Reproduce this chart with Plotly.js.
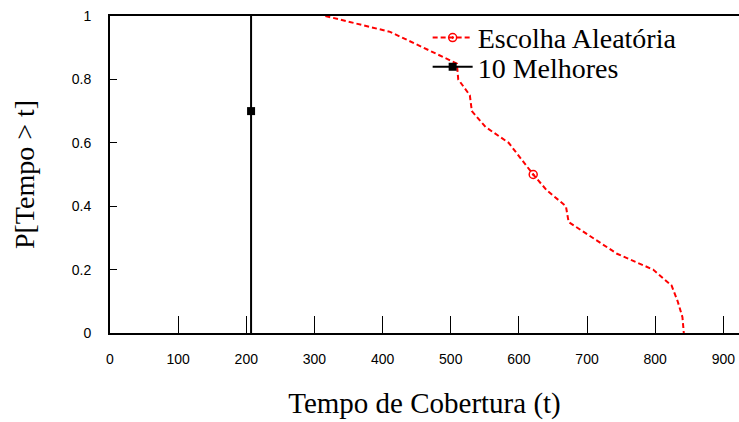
<!DOCTYPE html>
<html>
<head>
<meta charset="utf-8">
<script src="https://cdn.plot.ly/plotly-3.0.1.min.js"></script>
<style>html,body{margin:0;padding:0;background:#fff}#chart{width:739px;height:422px}</style>
</head>
<body>
<div id="chart"></div>
<script>
// Escolha Aleatória (random choice) – survival curve P[Tempo > t]
const randomT = [316, 411, 460, 509, 511, 528, 531, 551, 585, 603, 621, 641, 669, 673, 708, 744, 797, 824, 833, 840, 842];
const randomP = [1.0, 0.95, 0.90, 0.85, 0.80, 0.75, 0.70, 0.65, 0.60, 0.55, 0.50, 0.45, 0.40, 0.35, 0.30, 0.25, 0.20, 0.15, 0.10, 0.05, 0.0];
const randomMarkT = [621];
const randomMarkP = [0.5];
// 10 Melhores (10 best)
const bestT = [207, 207];
const bestP = [0.0, 1.0];
const bestMarkT = [207];
const bestMarkP = [0.7];

const xTicks = [0, 100, 200, 300, 400, 500, 600, 700, 800, 900];
const yTicks = [0, 0.2, 0.4, 0.6, 0.8, 1];
const yTickText = ['0', '0.2', '0.4', '0.6', '0.8', '1'];

const red = '#ff0000';
const black = '#000000';
const serif = 'Liberation Serif, Times New Roman, serif';
const sans = 'Liberation Sans, Arial, sans-serif';

const traces = [
  {x: randomT, y: randomP, mode: 'lines', showlegend: false,
   line: {color: red, width: 2, dash: '5px,3px'}, hoverinfo: 'skip'},
  {x: randomMarkT, y: randomMarkP, mode: 'lines+markers', name: 'Escolha Aleatória',
   legend: 'legend',
   line: {color: red, width: 2, dash: '5px,3px'},
   marker: {symbol: 'circle-open-dot', size: 8, color: red, line: {color: red, width: 1.5}}},
  {x: bestT, y: bestP, mode: 'lines', showlegend: false,
   line: {color: black, width: 2}, hoverinfo: 'skip'},
  {x: bestMarkT, y: bestMarkP, mode: 'lines+markers', name: '10 Melhores',
   legend: 'legend2',
   line: {color: black, width: 2},
   marker: {symbol: 'square', size: 8, color: black}}
];

const legendCommon = {
  xanchor: 'left', yanchor: 'middle',
  font: {family: serif, size: 28, color: '#000'},
  bgcolor: 'rgba(0,0,0,0)', borderwidth: 0, itemwidth: 40
};

const layout = {
  width: 739, height: 422,
  margin: {l: 110, r: 0, t: 16, b: 89},
  paper_bgcolor: '#fff', plot_bgcolor: '#fff',
  showlegend: true,
  legend: Object.assign({}, legendCommon, {x: 0.505, y: 0.931}),
  legend2: Object.assign({}, legendCommon, {x: 0.505, y: 0.839}),
  xaxis: {range: [0, 923], tickvals: xTicks, ticktext: xTicks.map(String),
          ticks: 'inside', ticklen: 17, tickwidth: 1, tickcolor: '#000',
          showline: true, linecolor: '#000', linewidth: 2, mirror: true,
          showgrid: false, zeroline: false, ticklabelstandoff: 12,
          tickfont: {family: sans, size: 14, color: '#000'},
          title: {text: 'Tempo de Cobertura (t)', font: {family: serif, size: 29, color: '#000'}, standoff: 27}},
  yaxis: {range: [0, 1], tickvals: yTicks, ticktext: yTickText,
          ticks: 'inside', ticklen: 7, tickwidth: 1, tickcolor: '#000',
          showline: true, linecolor: '#000', linewidth: 2, mirror: false,
          showgrid: false, zeroline: false, ticklabelstandoff: 14,
          tickfont: {family: sans, size: 14, color: '#000'},
          title: {text: 'P[Tempo > t]', font: {family: serif, size: 28, color: '#000'}, standoff: 29}}
};

Plotly.newPlot('chart', traces, layout, {staticPlot: true, displayModeBar: false});
</script>
</body>
</html>
